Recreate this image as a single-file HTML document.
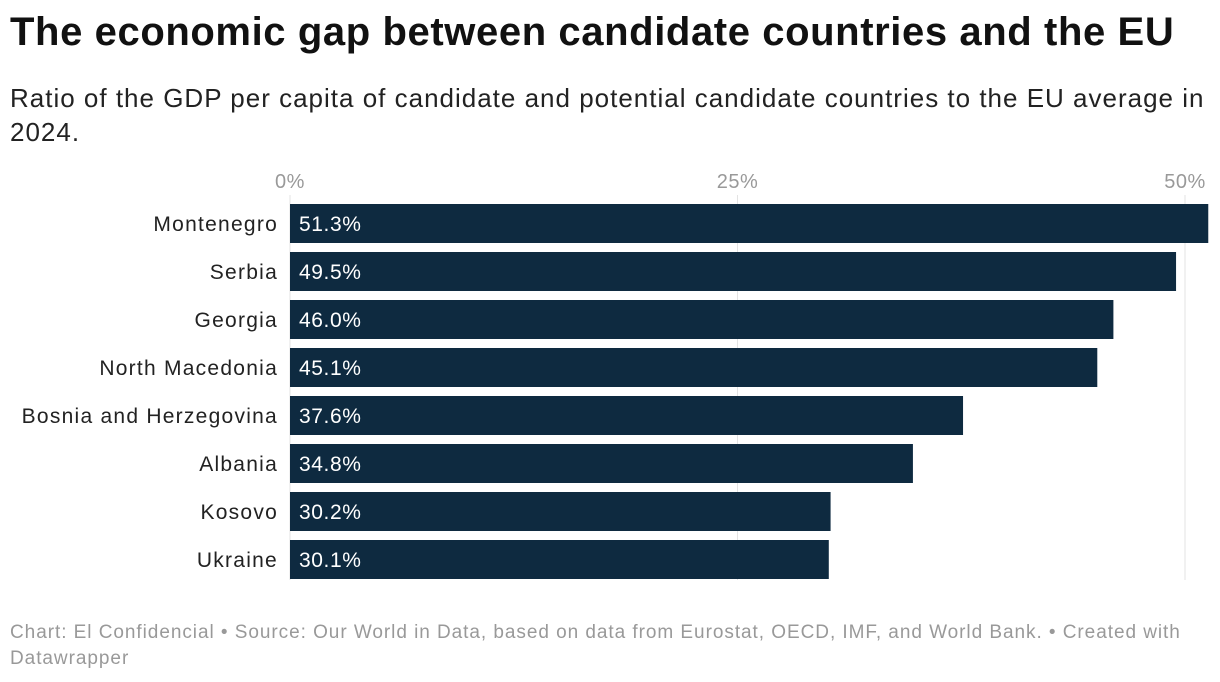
<!DOCTYPE html>
<html><head><meta charset="utf-8"><style>
body{margin:0;background:#fff;width:1220px;height:682px;overflow:hidden;font-family:"Liberation Sans",Arial,sans-serif;position:relative}
h1{position:absolute;left:10px;top:10px;margin:0;font-size:40px;font-weight:bold;color:#111;letter-spacing:0.6px;white-space:nowrap}
.sub{position:absolute;left:10px;top:81px;margin:0;font-size:26px;line-height:34px;color:#222;width:1200px;letter-spacing:1px}
.foot{position:absolute;left:10px;top:620px;font-size:19px;line-height:26px;color:#999;width:1200px;letter-spacing:0.95px}
svg{position:absolute;left:0;top:0}
</style></head><body>
<h1>The economic gap between candidate countries and the EU</h1>
<p class="sub">Ratio of the GDP per capita of candidate and potential candidate countries to the EU average in 2024.</p>
<svg id="chart" width="1220" height="682"></svg>
<div class="foot">Chart: El Confidencial • Source: Our World in Data, based on data from Eurostat, OECD, IMF, and World Bank. • Created with Datawrapper</div>
<script>
const categories=["Montenegro","Serbia","Georgia","North Macedonia","Bosnia and Herzegovina","Albania","Kosovo","Ukraine"];
const values=[51.3,49.5,46.0,45.1,37.6,34.8,30.2,30.1];
const ticks=[0,25,50];
const tickLabels=["0%","25%","50%"];
const svg=document.getElementById('chart');
const NS='http://www.w3.org/2000/svg';
const x=v=>290+v*17.9;
const y=i=>204+i*48;
function mk(t,a){const e=document.createElementNS(NS,t);for(const k in a)e.setAttribute(k,a[k]);svg.appendChild(e);return e;}
ticks.forEach((t,i)=>{
 const l=mk('line',{x1:x(t),x2:x(t),y1:195,y2:580,stroke:'#e3e3e3','stroke-width':1});
 
 
 const tx=mk('text',{x:x(t),y:188,'text-anchor':'middle','font-size':20,fill:'#999','letter-spacing':'0.5'});
 tx.textContent=tickLabels[i];
 
 
});
categories.forEach((c,i)=>{
 const r=mk('rect',{x:x(0),y:y(i),width:x(values[i])-x(0),height:39,fill:'#0e2a40'});
 
 
 const lb=mk('text',{x:278,y:y(i)+27,'text-anchor':'end','font-size':21,fill:'#222','letter-spacing':'1.25'});
 lb.textContent=c;
 
 
 const v=mk('text',{x:x(0)+9,y:y(i)+27,'font-size':21,fill:'#fff','letter-spacing':'0.6'});
 v.textContent=values[i].toFixed(1)+'%';
 
 
});
</script>
</body></html>
